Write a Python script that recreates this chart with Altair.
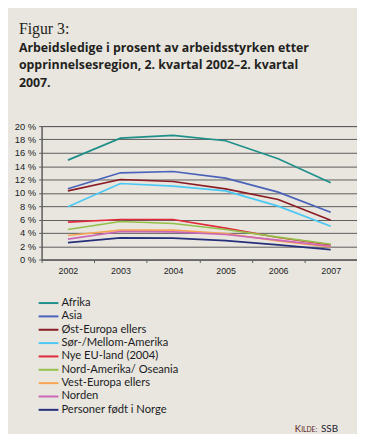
import altair as alt
import pandas as pd

years = ["2002", "2003", "2004", "2005", "2006", "2007"]
series = [
    "Afrika",
    "Asia",
    "Øst-Europa ellers",
    "Sør-/Mellom-Amerika",
    "Nye EU-land (2004)",
    "Nord-Amerika/ Oseania",
    "Vest-Europa ellers",
    "Norden",
    "Personer født i Norge",
]
afrika = [14.9, 18.2, 18.6, 17.8, 15.1, 11.5]
asia = [10.6, 13.0, 13.2, 12.2, 10.1, 7.1]
ost_europa = [10.3, 12.0, 11.7, 10.6, 9.0, 5.9]
sor_mellom = [7.9, 11.4, 11.0, 10.3, 8.0, 5.0]
nye_eu = [5.6, 6.0, 6.0, 4.7, 3.3, 2.2]
nord_amerika = [4.5, 5.7, 5.4, 4.5, 3.35, 2.3]
vest_europa = [3.6, 4.4, 4.4, 3.9, 2.8, 1.9]
norden = [3.05, 4.2, 4.15, 3.75, 2.9, 2.0]
norge = [2.55, 3.25, 3.2, 2.85, 2.2, 1.5]
values = [afrika, asia, ost_europa, sor_mellom, nye_eu, nord_amerika,
          vest_europa, norden, norge]
colors = ["#1f8f8a", "#4a62b8", "#8b1c24", "#4cc8f4", "#e0293a",
          "#94bf48", "#f7a552", "#cc66b8", "#26307a"]

title_lines = [
    "Arbeidsledige i prosent av arbeidsstyrken etter",
    "opprinnelsesregion, 2. kvartal 2002–2. kvartal",
    "2007.",
]

rows = [{"year": y, "series": s, "value": v}
        for s, vals in zip(series, values) for y, v in zip(years, vals)]
df = pd.DataFrame(rows)

bg = "#e8e6df"
grid = "#5c5c5c"
txt = "#1c1c24"

lines = alt.Chart(df).mark_line(strokeWidth=1.7).encode(
    x=alt.X("year:N", sort=years,
            scale=alt.Scale(type="band", paddingInner=0, paddingOuter=0),
            axis=alt.Axis(title=None, tickBand="extent", labelAngle=0, grid=False,
                          domainColor=grid, tickColor=grid, tickSize=3,
                          labelFont="Liberation Sans", labelFontSize=9,
                          labelColor=txt, labelPadding=4)),
    y=alt.Y("value:Q", scale=alt.Scale(domain=[0, 20], nice=False),
            axis=alt.Axis(title=None, values=list(range(0, 21, 2)),
                          labelExpr="datum.value + ' %'", grid=True,
                          gridColor=grid, gridWidth=1, gridOpacity=1,
                          domainColor=grid, tickColor=grid, tickSize=3,
                          labelFont="Liberation Sans", labelFontSize=9.5,
                          labelColor=txt, labelPadding=3)),
    color=alt.Color("series:N", sort=series, title=None,
                    scale=alt.Scale(domain=series, range=colors),
                    legend=alt.Legend(orient="none", legendX=1, legendY=173,
                                      symbolType="M-2,0H2", symbolSize=100,
                                      symbolStrokeWidth=2, labelFont="Lato",
                                      labelFontSize=11.3, labelColor=txt,
                                      labelOffset=7, rowPadding=1.5)),
    order=alt.Order("series:N"),
)


def text_layer(s, x, y, size, font, weight="normal", color=txt):
    return alt.Chart(pd.DataFrame({"t": [s]})).mark_text(
        align="left", baseline="alphabetic", font=font, fontSize=size,
        fontWeight=weight, color=color,
    ).encode(x=alt.value(x), y=alt.value(y), text="t:N")


layers = [lines,
          text_layer("Figur 3:", -23, -93, 16, "Liberation Serif", color="#231f20")]
for i, line in enumerate(title_lines):
    layers.append(text_layer(line, -23, -75 + i * 17.7, 12.5, "Open Sans", "bold", "#231f20"))
layers.append(text_layer("K", 256, 309, 9.5, "Lato", color="#5a1e22"))
layers.append(text_layer("ILDE:", 262.5, 309, 6.8, "Lato", color="#5a1e22"))
layers.append(text_layer("SSB", 282.5, 309, 10, "Lato", color="#1e2030"))

chart = alt.layer(*layers).properties(
    width=319, height=135,
    padding={"left": 34, "top": 117, "right": 0, "bottom": 174},
    autosize=alt.AutoSizeParams(type="none"),
    background=bg,
).configure_view(stroke=grid, strokeWidth=1)

chart.save("out.html", embed_options={"renderer": "svg", "actions": False})
